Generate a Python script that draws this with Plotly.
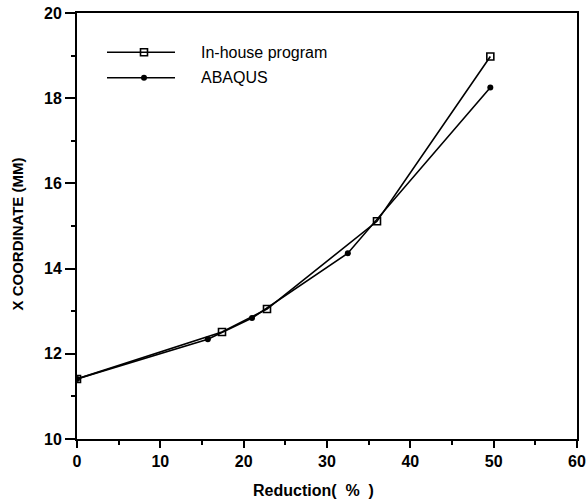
import plotly.graph_objects as go

# Data
inhouse_x = [0, 17.4, 22.8, 36.0, 49.6]
inhouse_y = [11.41, 12.51, 13.05, 15.11, 18.98]
abaqus_x = [0, 15.7, 21.0, 32.5, 49.6]
abaqus_y = [11.41, 12.34, 12.84, 14.36, 18.25]
legend_names = ["In-house program", "ABAQUS"]
x_title = "Reduction(  %  )"
y_title = "X COORDINATE (MM)"

FONT = "Liberation Sans, Arial, sans-serif"

fig = go.Figure()
fig.add_trace(go.Scatter(
    x=inhouse_x, y=inhouse_y, mode="lines+markers", name=legend_names[0],
    line=dict(color="black", width=1.6),
    marker=dict(symbol="square-open", size=7, color="black", line=dict(width=1.6)),
    showlegend=False,
))
fig.add_trace(go.Scatter(
    x=abaqus_x, y=abaqus_y, mode="lines+markers", name=legend_names[1],
    line=dict(color="black", width=1.6),
    marker=dict(symbol="circle", size=6, color="black"),
    showlegend=False,
))

# custom legend (paper coords)
leg_y = [0.908, 0.848]
shapes = []
annotations = []
for i, ly in enumerate(leg_y):
    shapes.append(dict(type="line", xref="paper", yref="paper", x0=0.06, x1=0.196, y0=ly, y1=ly,
                       line=dict(color="black", width=1.6)))
    annotations.append(dict(xref="paper", yref="paper", x=0.243, y=ly, text=legend_names[i],
                            showarrow=False, xanchor="left", yanchor="middle",
                            font=dict(family=FONT, size=16, color="black")))
fig.add_trace(go.Scatter(x=[0.134], y=[leg_y[0]], xaxis="x2", yaxis="y2", mode="markers",
                         marker=dict(symbol="square-open", size=7, color="black", line=dict(width=1.6)),
                         showlegend=False, hoverinfo="skip"))
fig.add_trace(go.Scatter(x=[0.134], y=[leg_y[1]], xaxis="x2", yaxis="y2", mode="markers",
                         marker=dict(symbol="circle", size=6, color="black"),
                         showlegend=False, hoverinfo="skip"))

annotations.append(dict(xref="paper", yref="paper", x=0.472, y=-0.12, text=x_title,
                        showarrow=False, xanchor="center", yanchor="middle",
                        font=dict(family=FONT, size=16, color="black", weight="bold")))
annotations.append(dict(xref="paper", yref="paper", x=-0.118, y=0.48, text=y_title, textangle=-90,
                        showarrow=False, xanchor="center", yanchor="middle",
                        font=dict(family=FONT, size=15, color="black", weight="bold")))

fig.update_layout(
    width=588, height=502,
    margin=dict(l=77, r=11, t=13, b=63),
    plot_bgcolor="white", paper_bgcolor="white",
    font=dict(family=FONT, color="black"),
    shapes=shapes, annotations=annotations,
    xaxis=dict(range=[0, 60], dtick=10, tick0=0, showgrid=False, zeroline=False, automargin=False,
               showline=True, linecolor="black", linewidth=2, mirror=True,
               ticks="outside", ticklen=7, tickwidth=2, tickcolor="black",
               minor=dict(dtick=5, ticks="outside", ticklen=4, tickwidth=1.5, tickcolor="black"),
               tickfont=dict(family=FONT, size=16, color="black", weight="bold")),
    yaxis=dict(range=[10, 20], dtick=2, tick0=10, showgrid=False, zeroline=False, automargin=False,
               showline=True, linecolor="black", linewidth=2, mirror=True,
               ticks="outside", ticklen=10, tickwidth=2, tickcolor="black",
               minor=dict(dtick=1, ticks="outside", ticklen=4, tickwidth=1.5, tickcolor="black"),
               tickfont=dict(family=FONT, size=16, color="black", weight="bold")),
    xaxis2=dict(range=[0, 1], overlaying="x", visible=False),
    yaxis2=dict(range=[0, 1], overlaying="y", visible=False),
)

fig.write_html("out.html", config={"displayModeBar": False},
               post_script="document.body.style.margin='0';document.body.style.overflow='hidden';")
